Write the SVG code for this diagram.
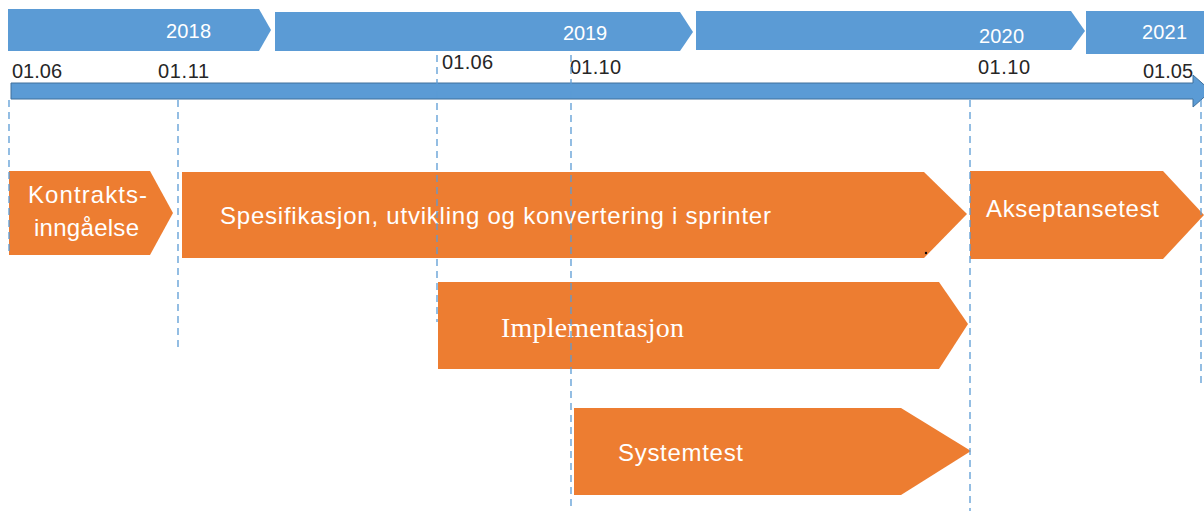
<svg xmlns="http://www.w3.org/2000/svg" width="1204" height="511" viewBox="0 0 1204 511">
<style>
.year{fill:#5b9bd5;}
.ytxt{font-family:"Liberation Sans",Arial,sans-serif;font-size:20px;fill:#ffffff;}
.date{font-family:"Liberation Sans",Arial,sans-serif;font-size:20px;fill:#262626;}
.phase{fill:#ed7d31;}
.ptxt{font-family:"Liberation Sans",Arial,sans-serif;font-size:24px;fill:#ffffff;}
.serif{font-family:"Liberation Serif","Times New Roman",serif;font-size:28px;fill:#ffffff;}
.guide{stroke:#5b9bd5;stroke-width:1.3;stroke-dasharray:7 5;fill:none;}
</style>
<rect width="1204" height="511" fill="#ffffff"/>
<g id="year-2018"><polygon class="year" points="8,9 259,9 271,30 259,51 8,51"/><text class="ytxt" x="166" y="38" textLength="45">2018</text></g>
<g id="year-2019"><polygon class="year" points="275,12 680,12 693,32 680,51 275,51"/><text class="ytxt" x="563" y="40" textLength="44">2019</text></g>
<g id="year-2020"><polygon class="year" points="696,11 1071,11 1085,31 1071,50 696,50"/><text class="ytxt" x="979" y="43" textLength="45">2020</text></g>
<g id="year-2021"><polygon class="year" points="1086,11 1204,11 1204,54 1086,54"/><text class="ytxt" x="1142" y="39" textLength="45">2021</text></g>
<g id="timeline"><polygon points="11,83 1193,83 1193,75 1211,91 1193,107 1193,99 11,99" fill="#5b9bd5" stroke="#41719c" stroke-width="1"/></g>
<g id="dates">
<text class="date" x="12" y="78" textLength="50">01.06</text>
<text class="date" x="158" y="78" textLength="51">01.11</text>
<text class="date" x="442" y="69" textLength="51">01.06</text>
<text class="date" x="570" y="74" textLength="51">01.10</text>
<text class="date" x="978" y="74" textLength="52">01.10</text>
<text class="date" x="1143" y="78" textLength="50">01.05</text>
</g>
<g id="kontrakt"><polygon class="phase" points="9,171 150,171 173,213 150,255 9,255"/>
<text class="ptxt" x="28" y="203" textLength="119">Kontrakts-</text>
<text class="ptxt" x="34" y="236" textLength="105">inngåelse</text></g>
<g id="spesifikasjon"><polygon class="phase" points="182,172 924,172 967,214 924,258 182,258"/>
<text class="ptxt" x="220" y="224" textLength="551">Spesifikasjon, utvikling og konvertering i sprinter</text>
<circle cx="926" cy="253" r="1.2" fill="#000000"/></g>
<g id="akseptansetest"><polygon class="phase" points="970,171 1163,171 1204,215 1163,259 970,259"/>
<text class="ptxt" x="986" y="217" textLength="173">Akseptansetest</text></g>
<g id="implementasjon"><polygon class="phase" points="438,282 939,282 968,324 939,369 438,369"/>
<text class="serif" x="501" y="337" textLength="183">Implementasjon</text></g>
<g id="systemtest"><polygon class="phase" points="574,408 901,408 971,451 901,495 574,495"/>
<text class="ptxt" x="618" y="461" textLength="125">Systemtest</text></g>
<g id="connectors">
<line class="guide" x1="9" y1="100" x2="9" y2="255"/>
<line class="guide" x1="178" y1="100" x2="178" y2="352"/>
<line class="guide" x1="437" y1="55" x2="437" y2="322"/>
<line class="guide" x1="571" y1="55" x2="571" y2="511"/>
<line class="guide" x1="970" y1="100" x2="970" y2="511"/>
<line class="guide" x1="1201" y1="100" x2="1201" y2="385"/>
</g>
</svg>
